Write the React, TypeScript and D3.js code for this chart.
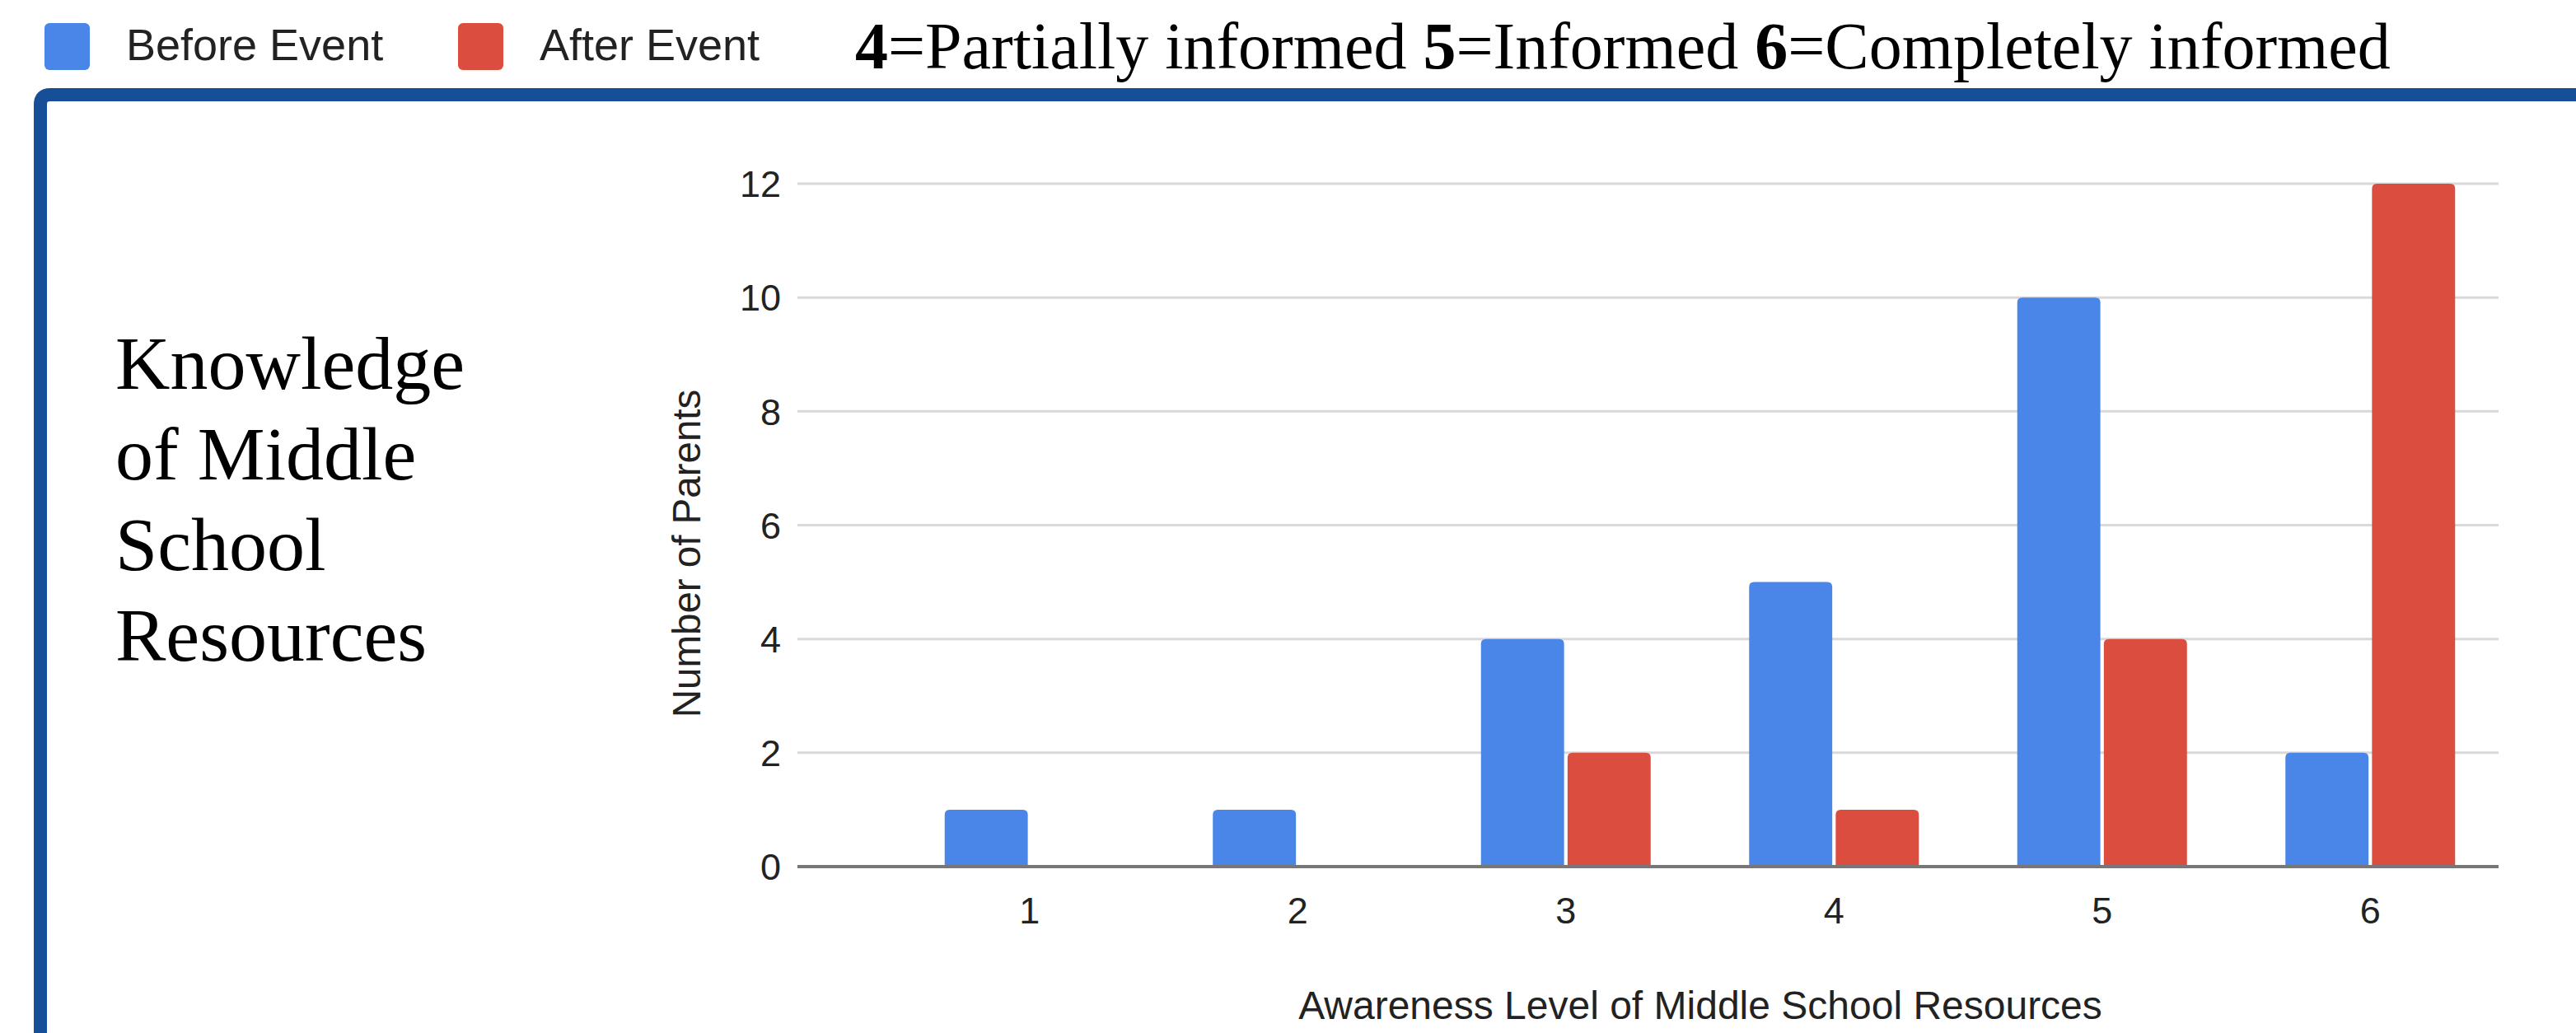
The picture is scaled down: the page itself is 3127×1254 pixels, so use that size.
import * as d3 from "d3";
import { useEffect, useRef } from "react";

const levels = ["1", "2", "3", "4", "5", "6"];
const beforeEvent = [1, 1, 4, 5, 10, 2];
const afterEvent = [0, 0, 2, 1, 4, 12];
const yTicks = [0, 2, 4, 6, 8, 10, 12];
const seriesNames = ["Before Event", "After Event"];
const seriesColors = ["#4a86e8", "#db4d3f"];
const keyNums = ["4", "5", "6"];
const keyLabels = ["Partially informed", "Informed", "Completely informed"];
const sideTitle = ["Knowledge", "of Middle", "School", "Resources"];
const xTitle = "Awareness Level of Middle School Resources";
const yTitle = "Number of Parents";

const W = 3127;
const H = 1254;
const SANS = "'Liberation Sans', Arial, Helvetica, sans-serif";
const SERIF = "'Liberation Serif', 'Times New Roman', serif";

function topRounded(x: number, y: number, w: number, h: number, r: number) {
  const rr = Math.min(r, h, w / 2);
  return `M${x},${y + h}V${y + rr}Q${x},${y} ${x + rr},${y}H${x + w - rr}Q${x + w},${y} ${x + w},${y + rr}V${y + h}Z`;
}

function Chart() {
  const ref = useRef<SVGSVGElement | null>(null);

  useEffect(() => {
    const el = ref.current;
    if (!el) return;
    const svg = d3.select(el);
    svg.selectAll("*").remove();

    svg.append("rect").attr("width", W).attr("height", H).attr("fill", "#fff");

    // legend
    const lg = svg.append("g");
    const legendX = [54, 556];
    seriesNames.forEach((name, i) => {
      lg.append("rect")
        .attr("x", legendX[i])
        .attr("y", 28)
        .attr("width", 55)
        .attr("height", 57)
        .attr("rx", 6)
        .attr("fill", seriesColors[i]);
      lg.append("text")
        .attr("x", legendX[i] + 99)
        .attr("y", 73)
        .attr("font-family", SANS)
        .attr("font-size", 54)
        .attr("fill", "#222")
        .text(name);
    });

    // scale key line at top
    const key = svg
      .append("text")
      .attr("x", 1038)
      .attr("y", 83)
      .attr("font-family", SERIF)
      .attr("font-size", 80)
      .attr("fill", "#000");
    keyNums.forEach((n, i) => {
      key.append("tspan").attr("font-weight", 700).text(n);
      key.append("tspan").text(`=${keyLabels[i]}${i < keyNums.length - 1 ? " " : ""}`);
    });

    // blue frame
    svg.append("path")
      .attr("d", `M49,${H + 20}V127Q49,115 61,115H${W + 20}`)
      .attr("fill", "none")
      .attr("stroke", "#174e98")
      .attr("stroke-width", 16);

    // side title
    const side = svg
      .append("text")
      .attr("font-family", SERIF)
      .attr("font-size", 92)
      .attr("fill", "#000");
    sideTitle.forEach((line, i) => {
      side.append("tspan").attr("x", 140).attr("y", 472 + i * 110).text(line);
    });

    // chart
    const gridL = 968;
    const gridR = 3033;
    const y = d3.scaleLinear().domain([0, 12]).range([1052, 223]);
    const x0 = d3.scaleBand().domain(levels).range([1087, 3040]).padding(0);
    const step = x0.bandwidth();
    const x1 = d3
      .scaleBand()
      .domain(seriesNames)
      .range([step / 2 - 103, step / 2 + 103])
      .paddingInner(0.04);

    const g = svg.append("g");

    g.append("g")
      .selectAll("line")
      .data(yTicks.filter((t) => t !== 0))
      .join("line")
      .attr("x1", gridL)
      .attr("x2", gridR)
      .attr("y1", (d) => y(d))
      .attr("y2", (d) => y(d))
      .attr("stroke", "#d9d9d9")
      .attr("stroke-width", 3);

    g.append("g")
      .selectAll("text")
      .data(yTicks)
      .join("text")
      .attr("x", 948)
      .attr("y", (d) => y(d))
      .attr("dy", "0.36em")
      .attr("text-anchor", "end")
      .attr("font-family", SANS)
      .attr("font-size", 45)
      .attr("fill", "#222")
      .text((d) => d);

    const series = [beforeEvent, afterEvent];
    const bars = levels.flatMap((lvl, i) =>
      seriesNames.map((s, j) => ({ lvl, s, v: series[j][i], c: seriesColors[j] })),
    );

    g.append("g")
      .selectAll("path")
      .data(bars.filter((b) => b.v > 0))
      .join("path")
      .attr("fill", (d) => d.c)
      .attr("d", (d) => {
        const bx = (x0(d.lvl) ?? 0) + (x1(d.s) ?? 0);
        const by = y(d.v);
        return topRounded(bx, by, x1.bandwidth(), y(0) - by, 6);
      });

    g.append("line")
      .attr("x1", gridL)
      .attr("x2", gridR)
      .attr("y1", y(0))
      .attr("y2", y(0))
      .attr("stroke", "#777")
      .attr("stroke-width", 4);

    g.append("g")
      .selectAll("text")
      .data(levels)
      .join("text")
      .attr("x", (d) => (x0(d) ?? 0) + step / 2)
      .attr("y", 1121)
      .attr("text-anchor", "middle")
      .attr("font-family", SANS)
      .attr("font-size", 45)
      .attr("fill", "#222")
      .text((d) => d);

    g.append("text")
      .attr("x", 2064)
      .attr("y", 1237)
      .attr("text-anchor", "middle")
      .attr("font-family", SANS)
      .attr("font-size", 48)
      .attr("fill", "#222")
      .text(xTitle);

    g.append("text")
      .attr("transform", `translate(850,672) rotate(-90)`)
      .attr("text-anchor", "middle")
      .attr("font-family", SANS)
      .attr("font-size", 47.5)
      .attr("fill", "#222")
      .text(yTitle);
  }, []);

  return <svg ref={ref} width={W} height={H} style={{ display: "block" }} />;
}

export default function App() {
  return (
    <div style={{ position: "absolute", left: 0, top: 0 }}>
      <Chart />
    </div>
  );
}
